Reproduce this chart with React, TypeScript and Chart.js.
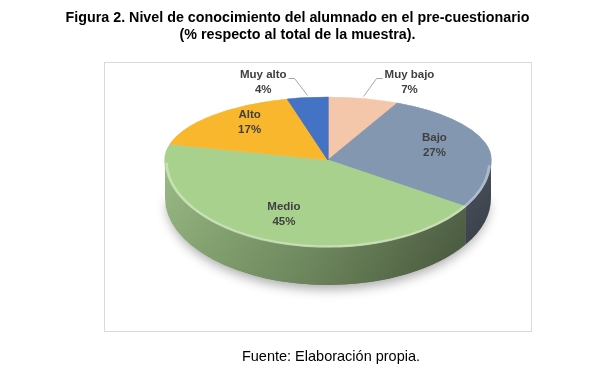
import React, { useEffect, useRef } from "react";
import { Chart, registerables } from "chart.js";

Chart.register(...registerables);

const titleLines = [
  "Figura 2. Nivel de conocimiento del alumnado en el pre-cuestionario",
  "(% respecto al total de la muestra).",
];
const sourceText = "Fuente: Elaboración propia.";

const categories = ["Muy bajo", "Bajo", "Medio", "Alto", "Muy alto"];
const percentages = [7, 27, 45, 17, 4];
const sliceColors = ["#f4c6aa", "#8497b0", "#a9d18e", "#f9b72d", "#4472c4"];
const outsideLabel = [true, false, false, false, true];

const W = 595;
const H = 376;
const CX = 328;
const CY = 160;
const RX = 163;
const RY_BACK = 63;
const RY_FRONT = 87;
const DEPTH = 38;

function shade(hex: string, f: number, a = 1) {
  const n = parseInt(hex.slice(1), 16);
  const r = Math.round(((n >> 16) & 255) * f);
  const g = Math.round(((n >> 8) & 255) * f);
  const b = Math.round((n & 255) * f);
  return `rgba(${r},${g},${b},${a})`;
}

const pie3d = {
  id: "pie3d",
  beforeDraw(chart: any) {
    const ctx = chart.ctx;
    ctx.save();
    ctx.strokeStyle = "#d9d9d9";
    ctx.lineWidth = 1;
    ctx.strokeRect(104.5, 62.5, 427, 269);
    ctx.restore();
  },
  beforeDatasetsDraw(chart: any) {
    const ctx = chart.ctx;
    const meta = chart.getDatasetMeta(0);
    const arcs = meta.data;
    if (!arcs.length) return false;

    // soft shadow under the pie
    ctx.save();
    ctx.beginPath();
    ctx.ellipse(CX, CY + DEPTH, RX - 2, RY_FRONT, 0, 0, Math.PI, false);
    ctx.closePath();
    ctx.shadowColor = "rgba(0,0,0,0.35)";
    ctx.shadowBlur = 12;
    ctx.shadowOffsetY = 4;
    ctx.fillStyle = "#777";
    ctx.fill();
    ctx.restore();

    // side walls
    arcs.forEach((arc: any, i: number) => {
      const s = Math.max(arc.startAngle, 0);
      const e = Math.min(arc.endAngle, Math.PI);
      if (s >= e) return;
      ctx.save();
      ctx.beginPath();
      ctx.ellipse(CX, CY, RX, RY_FRONT, 0, s, e, false);
      ctx.ellipse(CX, CY + DEPTH, RX, RY_FRONT, 0, e, s, true);
      ctx.closePath();
      const g = ctx.createLinearGradient(CX - RX, 0, CX + RX, 0);
      const base = sliceColors[i];
      g.addColorStop(0, shade(base, 0.86));
      g.addColorStop(0.45, shade(base, 0.68));
      g.addColorStop(1, shade(base, 0.4));
      ctx.fillStyle = g;
      ctx.fill();
      const v = ctx.createLinearGradient(0, CY, 0, CY + RY_FRONT + DEPTH);
      v.addColorStop(0, "rgba(255,255,255,0.10)");
      v.addColorStop(1, "rgba(0,0,0,0.08)");
      ctx.fillStyle = v;
      ctx.fill();
      ctx.restore();
    });

    // top face: back half and front half, drawn by the controller
    const a0 = arcs[0];
    const R = a0.outerRadius;
    const halves = [
      { y0: 0, y1: CY, ry: RY_BACK },
      { y0: CY, y1: H, ry: RY_FRONT },
    ];
    halves.forEach((h) => {
      ctx.save();
      ctx.beginPath();
      ctx.rect(0, h.y0, W, h.y1 - h.y0);
      ctx.clip();
      ctx.translate(CX, CY);
      ctx.scale(RX / R, h.ry / R);
      ctx.translate(-a0.x, -a0.y);
      meta.controller.draw();
      ctx.restore();
    });

    // bevel highlight on the front rim
    ctx.save();
    ctx.beginPath();
    ctx.ellipse(CX, CY + 1, RX - 1.5, RY_FRONT - 1.5, 0, 0.05, Math.PI - 0.02, false);
    ctx.strokeStyle = "rgba(255,255,255,0.35)";
    ctx.lineWidth = 2.5;
    ctx.stroke();
    ctx.restore();
    return false;
  },
  afterDraw(chart: any) {
    const ctx = chart.ctx;
    const meta = chart.getDatasetMeta(0);
    const ds = chart.data.datasets[0];
    ctx.save();
    ctx.font = "bold 11.5px 'Liberation Sans', Arial, sans-serif";
    ctx.fillStyle = "#404040";
    ctx.textAlign = "center";
    ctx.textBaseline = "middle";
    meta.data.forEach((arc: any, i: number) => {
      const mid = (arc.startAngle + arc.endAngle) / 2;
      const c = Math.cos(mid);
      const s = Math.sin(mid);
      const name = chart.data.labels[i];
      const pct = ds.data[i] + "%";
      if (!outsideLabel[i]) {
        const f = 0.68;
        const x = CX + RX * f * c;
        const y = CY + (s < 0 ? RY_BACK * 1.25 : RY_FRONT) * f * s;
        ctx.fillText(name, x, y - 7.5);
        ctx.fillText(pct, x, y + 7.5);
      } else {
        const px = CX + RX * c;
        const py = CY + (s < 0 ? RY_BACK : RY_FRONT) * s - 2;
        const sign = c >= 0 ? 1 : -1;
        const ey = CY - RY_BACK - 19;
        const ex = px + sign * 13;
        const hx = ex + sign * 6;
        ctx.beginPath();
        ctx.moveTo(px, py);
        ctx.lineTo(ex, ey + 0.5);
        ctx.lineTo(hx, ey + 0.5);
        ctx.strokeStyle = "#a6a6a6";
        ctx.lineWidth = 1;
        ctx.stroke();
        const w = Math.max(ctx.measureText(name).width, ctx.measureText(pct).width);
        const tx = hx + sign * (2 + w / 2);
        ctx.fillText(name, tx, ey - 3);
        ctx.fillText(pct, tx, ey + 12);
      }
    });
    ctx.restore();
  },
};

export default function App() {
  const ref = useRef<HTMLCanvasElement | null>(null);
  useEffect(() => {
    if (!ref.current) return;
    const chart = new Chart(ref.current, {
      type: "pie",
      data: {
        labels: categories,
        datasets: [
          {
            data: percentages,
            backgroundColor: sliceColors,
            borderColor: sliceColors,
            borderWidth: 1,
            clip: false as any,
          },
        ],
      },
      options: {
        responsive: false,
        devicePixelRatio: 1,
        animation: false,
        events: [],
        layout: { padding: { top: 70, bottom: 50, left: 100, right: 60 } },
        plugins: {
          legend: { display: false },
          tooltip: { enabled: false },
          title: { display: false },
        },
      },
      plugins: [pie3d],
    });
    return () => chart.destroy();
  }, []);

  return (
    <div style={{ position: "absolute", left: 0, top: 0, width: W, height: H, background: "#fff" }}>
      <canvas ref={ref} width={W} height={H} style={{ position: "absolute", left: 0, top: 0, width: W, height: H }} />
      <div
        style={{
          position: "absolute",
          top: 9,
          left: 0,
          width: W,
          textAlign: "center",
          fontFamily: "'Liberation Sans', Arial, sans-serif",
          fontWeight: "bold",
          fontSize: 14.3,
          lineHeight: "17px",
          color: "#000",
        }}
      >
        {titleLines.map((t, i) => (
          <div key={i}>{t}</div>
        ))}
      </div>
      <div
        style={{
          position: "absolute",
          top: 348,
          left: 181,
          width: 300,
          textAlign: "center",
          fontFamily: "'Liberation Sans', Arial, sans-serif",
          fontSize: 14.5,
          lineHeight: "17px",
          color: "#000",
        }}
      >
        {sourceText}
      </div>
    </div>
  );
}
